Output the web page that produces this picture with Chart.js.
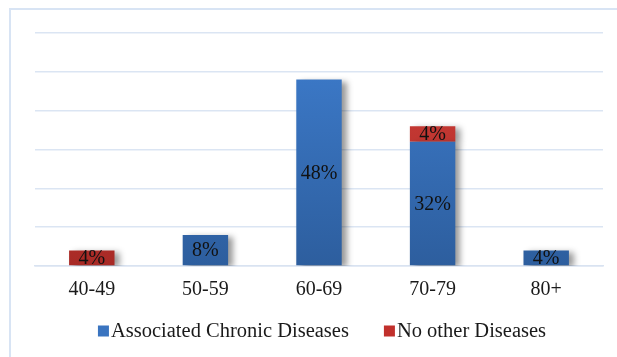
<!DOCTYPE html>
<html>
<head>
<meta charset="utf-8">
<script src="https://cdn.jsdelivr.net/npm/chart.js@4.4.1/dist/chart.umd.min.js"></script>
<style>
  html, body { margin: 0; padding: 0; background: #fff; }
  #wrap { position: relative; width: 617px; height: 357px; overflow: hidden; }
  #frame { position: absolute; left: 9px; top: 8px; width: 640px; height: 380px; border: 2px solid #d8e4f4; box-sizing: border-box; }
  canvas { position: absolute; left: 0; top: 0; }
</style>
</head>
<body>
<div id="wrap">
  <div id="frame"></div>
  <canvas id="ageChart" width="617" height="357"></canvas>
</div>
<script>
const ageGroups = ['40-49', '50-59', '60-69', '70-79', '80+'];
const chronicValues = [0, 8, 48, 32, 4];
const noOtherValues = [4, 0, 0, 4, 0];

const serif = "'Liberation Serif', 'Times New Roman', serif";
const legendSwatches = ['#3a74c0', '#c1302c'];

function verticalGradient(context, top, bottom) {
    const chart = context.chart;
    const area = chart.chartArea;
    if (!area) return bottom;
    const g = chart.ctx.createLinearGradient(0, area.top, 0, area.bottom);
    g.addColorStop(0, top);
    g.addColorStop(1, bottom);
    return g;
}

// soft shadow on the right side of each bar
const barShadow = {
    id: 'barShadow',
    beforeDatasetsDraw(chart) {
        const ctx = chart.ctx;
        ctx.save();
        ctx.shadowColor = 'rgba(0,0,0,0.4)';
        ctx.shadowBlur = 6;
        ctx.shadowOffsetX = 5;
        ctx.shadowOffsetY = 2;
    },
    afterDatasetsDraw(chart) {
        chart.ctx.restore();
    }
};

// percentage text centred in each segment
const segmentLabels = {
    id: 'segmentLabels',
    afterDatasetsDraw(chart) {
        const ctx = chart.ctx;
        ctx.save();
        ctx.font = '20px ' + serif;
        ctx.fillStyle = '#111';
        ctx.textAlign = 'center';
        ctx.textBaseline = 'middle';
        chart.data.datasets.forEach((ds, i) => {
            const meta = chart.getDatasetMeta(i);
            meta.data.forEach((bar, j) => {
                const v = ds.data[j];
                if (!v) return;
                const mid = (bar.y + bar.base) / 2;
                ctx.fillText(v + '%', bar.x, mid + 1);
            });
        });
        ctx.restore();
    }
};

// legend row under the axis: square swatch + label, wide gap between items
const bottomLegend = {
    id: 'bottomLegend',
    afterDraw(chart) {
        const ctx = chart.ctx;
        const y = 332;
        const box = 11;
        const gap = 35;
        ctx.save();
        ctx.font = '20.5px ' + serif;
        ctx.textBaseline = 'middle';
        ctx.textAlign = 'left';
        const items = chart.data.datasets.map((ds, i) => ({
            text: ds.label,
            color: legendSwatches[i],
            w: box + 2 + ctx.measureText(ds.label).width
        }));
        const total = items.reduce((s, it) => s + it.w, 0) + gap * (items.length - 1);
        let x = 322 - total / 2;
        items.forEach(it => {
            ctx.fillStyle = it.color;
            ctx.fillRect(x, y - box / 2 - 1, box, box);
            ctx.fillStyle = '#1a1a1a';
            ctx.fillText(it.text, x + box + 2, y);
            x += it.w + gap;
        });
        ctx.restore();
    }
};

new Chart(document.getElementById('ageChart').getContext('2d'), {
    type: 'bar',
    data: {
        labels: ageGroups,
        datasets: [
            {
                label: 'Associated Chronic Diseases',
                data: chronicValues,
                backgroundColor: ctx => verticalGradient(ctx, '#3e7dce', '#2d5e9e'),
                borderWidth: 0,
                categoryPercentage: 1,
                barPercentage: 0.4
            },
            {
                label: 'No other Diseases',
                data: noOtherValues,
                backgroundColor: ctx => verticalGradient(ctx, '#d4403a', '#a82a26'),
                borderWidth: 0,
                categoryPercentage: 1,
                barPercentage: 0.4
            }
        ]
    },
    options: {
        responsive: false,
        animation: false,
        layout: {
            padding: { left: 35, right: 14, top: 33, bottom: 51 }
        },
        scales: {
            x: {
                stacked: true,
                grid: { display: false },
                border: { color: '#d9e3f1', width: 1.5 },
                ticks: {
                    color: '#1a1a1a',
                    padding: 4,
                    font: { family: serif, size: 20 }
                }
            },
            y: {
                stacked: true,
                min: 0,
                max: 60,
                border: { display: false },
                grid: { color: '#dbe5f3', lineWidth: 1.5, drawTicks: false },
                ticks: { display: false, stepSize: 10 }
            }
        },
        plugins: {
            legend: { display: false },
            tooltip: { enabled: false }
        }
    },
    plugins: [barShadow, segmentLabels, bottomLegend]
});
</script>
</body>
</html>
